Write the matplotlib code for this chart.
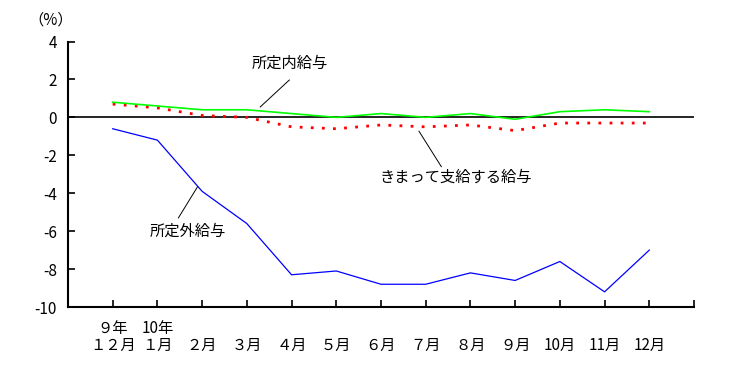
import matplotlib
matplotlib.use('Agg')
import matplotlib.pyplot as plt

plt.rcParams['font.family'] = ['Noto Sans CJK JP', 'DejaVu Sans']
plt.rcParams['axes.unicode_minus'] = False

months = ['９年\n１２月', '10年\n１月', '\n２月', '\n３月', '\n４月', '\n５月', '\n６月',
          '\n７月', '\n８月', '\n９月', '\n10月', '\n11月', '\n12月']
shoteinai = [0.8, 0.6, 0.4, 0.4, 0.2, 0.0, 0.2, 0.0, 0.2, -0.1, 0.3, 0.4, 0.3]
kimatte = [0.7, 0.5, 0.1, 0.0, -0.5, -0.6, -0.4, -0.5, -0.4, -0.7, -0.3, -0.3, -0.3]
shoteigai = [-0.6, -1.2, -3.9, -5.6, -8.3, -8.1, -8.8, -8.8, -8.2, -8.6, -7.6, -9.2, -7.0]
yticks = [4, 2, 0, -2, -4, -6, -8, -10]

x = list(range(len(months)))

fig = plt.figure(figsize=(7.34, 3.72), dpi=100)
ax = fig.add_axes([0.0926, 0.1747, 0.8529, 0.7137])

ax.axhline(0, color='black', lw=1.2, zorder=1)
ax.plot(x, shoteinai, color='#00ff00', lw=1.2, zorder=3)
ax.plot(x, kimatte, color='#ff0000', lw=2.0, dashes=(1, 3), zorder=2)
ax.plot(x, shoteigai, color='#0000ff', lw=0.9, zorder=3)

ax.set_xlim(-1, 13)
ax.set_ylim(-10, 4)
ax.set_yticks(yticks)
ax.set_yticklabels([str(v) for v in yticks], fontsize=11)
ax.set_xticks(list(range(14)))
ax.set_xticklabels(months + [''], fontsize=11, linespacing=1.05)
ax.tick_params(axis='both', direction='in', length=5, width=1.2)
ax.tick_params(axis='y', pad=8)
ax.tick_params(axis='x', pad=9)
for s in ['top', 'right']:
    ax.spines[s].set_visible(False)
for s in ['left', 'bottom']:
    ax.spines[s].set_linewidth(1.5)

fig.text(0.038, 0.945, '（%）', fontsize=11, ha='left', va='center')

# labels with leader lines
ax.text(3.97, 2.85, '所定内給与', fontsize=11, ha='center', va='center')
ax.plot([3.95, 3.3], [1.97, 0.55], color='black', lw=0.7)
ax.text(7.68, -3.15, 'きまって支給する給与', fontsize=11, ha='center', va='center')
ax.plot([6.85, 7.35], [-0.73, -2.6], color='black', lw=0.7)
ax.text(1.67, -6.0, '所定外給与', fontsize=11, ha='center', va='center')
ax.plot([1.47, 1.9], [-5.3, -3.65], color='black', lw=0.7)

fig.savefig('out.png', dpi=100)
